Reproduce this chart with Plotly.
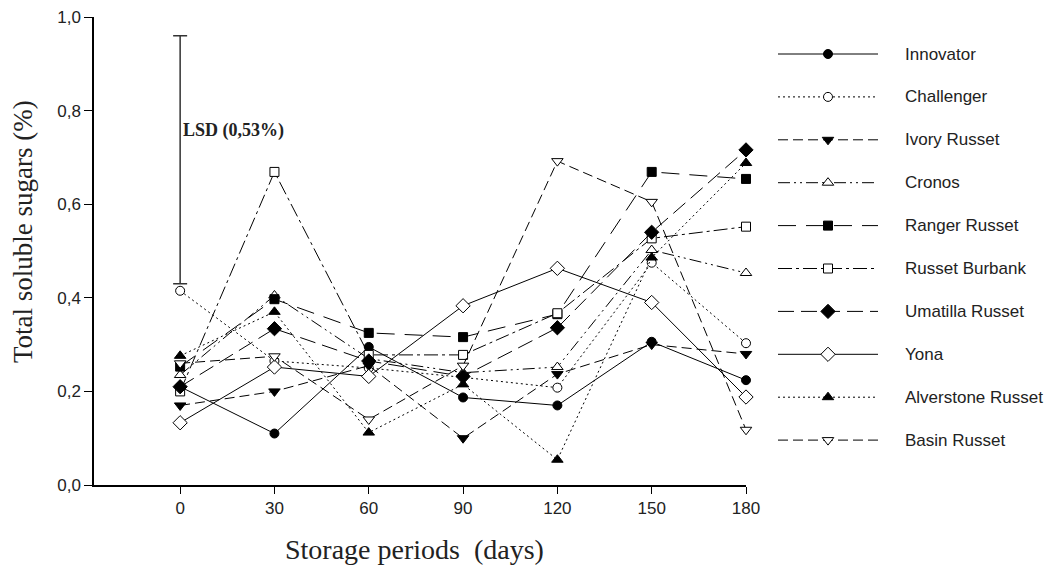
import plotly.graph_objects as go

W, H = 1049, 570

days = [0, 30, 60, 90, 120, 150, 180]
series_names = ["Innovator", "Challenger", "Ivory Russet", "Cronos", "Ranger Russet",
                "Russet Burbank", "Umatilla Russet", "Yona", "Alverstone Russet", "Basin Russet"]
innovator = [0.21, 0.11, 0.295, 0.187, 0.17, 0.306, 0.224]
challenger = [0.415, 0.265, 0.25, 0.23, 0.208, 0.475, 0.303]
ivory_russet = [0.17, 0.20, 0.255, 0.10, 0.237, 0.30, 0.28]
cronos = [0.235, 0.405, 0.27, 0.24, 0.252, 0.502, 0.453]
ranger_russet = [0.253, 0.397, 0.325, 0.316, 0.365, 0.669, 0.654]
russet_burbank = [0.20, 0.669, 0.278, 0.278, 0.367, 0.527, 0.552]
umatilla_russet = [0.21, 0.334, 0.265, 0.232, 0.336, 0.54, 0.716]
yona = [0.133, 0.252, 0.232, 0.383, 0.463, 0.39, 0.188]
alverstone_russet = [0.276, 0.37, 0.112, 0.215, 0.054, 0.486, 0.688]
basin_russet = [0.26, 0.275, 0.14, 0.255, 0.692, 0.605, 0.118]

lsd_value = 0.53
lsd_top = 0.96

y_ticks = [0.0, 0.2, 0.4, 0.6, 0.8, 1.0]
y_ticktext = ["0,0", "0,2", "0,4", "0,6", "0,8", "1,0"]

values = [innovator, challenger, ivory_russet, cronos, ranger_russet,
          russet_burbank, umatilla_russet, yona, alverstone_russet, basin_russet]

styles = [
    dict(dash="solid", symbol="circle", fill="black", size=9),
    dict(dash="2px,3px", symbol="circle", fill="white", size=9),
    dict(dash="10px,5px", symbol="triangle-down", fill="black", size=10),
    dict(dash="12px,4px,2px,4px,2px,4px", symbol="triangle-up", fill="white", size=10),
    dict(dash="18px,10px", symbol="square", fill="black", size=9),
    dict(dash="14px,4px,3px,4px", symbol="square", fill="white", size=9),
    dict(dash="16px,7px", symbol="diamond", fill="black", size=11),
    dict(dash="solid", symbol="diamond", fill="white", size=11),
    dict(dash="2px,3px", symbol="triangle-up", fill="black", size=10),
    dict(dash="10px,5px", symbol="triangle-down", fill="white", size=10),
]

fig = go.Figure()

# LSD bar
fig.add_trace(go.Scatter(
    x=[days[0]], y=[lsd_top - lsd_value / 2], mode="markers",
    marker=dict(size=0.1, color="rgba(0,0,0,0)"),
    error_y=dict(type="data", array=[lsd_value / 2], visible=True,
                 color="#333333", thickness=1.5, width=7),
    showlegend=False, hoverinfo="skip", cliponaxis=False))

for name, vals, st in zip(series_names, values, styles):
    fig.add_trace(go.Scatter(
        x=days, y=vals, mode="lines+markers", name=name, showlegend=False,
        cliponaxis=False,
        line=dict(color="black", width=1, dash=st["dash"]),
        marker=dict(symbol=st["symbol"], size=st["size"], color=st["fill"],
                    line=dict(color="black", width=1))))

# custom legend (long line samples)
for i, (name, st) in enumerate(zip(series_names, styles)):
    fig.add_trace(go.Scatter(
        x=[0, 0.5, 1], y=[i, i, i], mode="lines", xaxis="x2", yaxis="y2",
        line=dict(color="black", width=1, dash=st["dash"]),
        showlegend=False, hoverinfo="skip"))
    fig.add_trace(go.Scatter(
        x=[0.5], y=[i], mode="markers", xaxis="x2", yaxis="y2",
        marker=dict(symbol=st["symbol"], size=st["size"], color=st["fill"],
                    line=dict(color="black", width=1)),
        showlegend=False, hoverinfo="skip"))
    fig.add_annotation(x=903 / W, y=i, xref="paper", yref="y2", text=name,
                       showarrow=False, xanchor="left", yanchor="middle",
                       font=dict(family="Liberation Sans, Arial", size=17, color="#222222"))

fig.add_annotation(x=days[0], y=0.758, xref="x", yref="y", text="<b>LSD (0,53%)</b>",
                   showarrow=False, xanchor="left", yanchor="middle", xshift=1,
                   font=dict(family="Liberation Serif, Times New Roman", size=18, color="#222222"))

# axis titles
fig.add_annotation(x=414 / W, y=1 - 549 / H, xref="paper", yref="paper",
                   text="Storage periods  (days)", showarrow=False,
                   xanchor="center", yanchor="middle",
                   font=dict(family="Liberation Serif, Times New Roman", size=28, color="#222222"))
fig.add_annotation(x=23 / W, y=1 - 232 / H, xref="paper", yref="paper",
                   text="Total soluble sugars (%)", showarrow=False, textangle=-90,
                   xanchor="center", yanchor="middle",
                   font=dict(family="Liberation Serif, Times New Roman", size=27, color="#222222"))

fig.update_layout(
    width=W, height=H,
    margin=dict(l=0, r=0, t=0, b=0),
    paper_bgcolor="white", plot_bgcolor="white",
    showlegend=False,
    xaxis=dict(domain=[94 / W, 746 / W], range=[-27.4, 180], tickvals=days,
               showgrid=False, zeroline=False, showline=True, linecolor="black", linewidth=1.5,
               ticks="outside", ticklen=7, tickcolor="black", tickwidth=1,
               tickfont=dict(family="Liberation Sans, Arial", size=17, color="#222222"),
               automargin=False),
    yaxis=dict(domain=[85 / H, 553 / H], range=[0, 1.0], tickvals=y_ticks, ticktext=y_ticktext,
               showgrid=False, zeroline=False, showline=True, linecolor="black", linewidth=1.5,
               ticks="outside", ticklen=8, tickcolor="black", tickwidth=1,
               tickfont=dict(family="Liberation Sans, Arial", size=17, color="#222222"),
               automargin=False),
    xaxis2=dict(domain=[778 / W, 878 / W], range=[0, 1], visible=False, anchor="y2"),
    yaxis2=dict(domain=[0, 1], range=[(H - 54) / 42.9, -54 / 42.9], visible=False, anchor="x2"),
)

fig.write_html("out.html")
